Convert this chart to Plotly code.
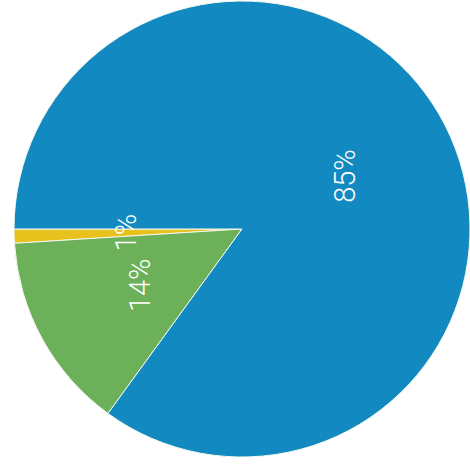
import math
import plotly.graph_objects as go

# Data
labels = ["Yellow", "Green", "Blue"]
values = [1, 14, 85]
colors = ["#e8c21c", "#6cb05a", "#128ac1"]
text_labels = ["1%", "14%", "85%"]

W, H = 470, 465
dom_x = [14 / W, 1.0]
dom_y = [8 / H, 464 / H]

total = sum(values)
# counterclockwise pies in plotly place the first slice's far edge at `rotation`;
# shift so that the first slice begins exactly at 9 o'clock
start_rot = -90 - values[0] / total * 360

fig = go.Figure(go.Pie(
    labels=labels,
    values=values,
    marker=dict(colors=colors, line=dict(color="#f4f8f0", width=1)),
    sort=False,
    direction="counterclockwise",
    rotation=start_rot,
    textinfo="none",
    hoverinfo="label+percent",
    showlegend=False,
    domain=dict(x=dom_x, y=dom_y),
))

# Label positions derived from the slice values (mid-angle of each slice, half radius)
wpx = (dom_x[1] - dom_x[0]) * W
hpx = (dom_y[1] - dom_y[0]) * H
r = min(wpx, hpx) / 2
cx = (dom_x[0] + dom_x[1]) / 2 * W
cy = (dom_y[0] + dom_y[1]) / 2 * H  # from bottom
cum = 0
for v, t in zip(values, text_labels):
    mid = (cum + v / 2) / total * 360
    cum += v
    ang = math.radians(180 + mid)  # start at 9 o'clock, counterclockwise
    px = cx + 0.51 * r * math.cos(ang)
    py = cy + 0.51 * r * math.sin(ang)
    fig.add_annotation(
        x=px / W, y=py / H, xref="paper", yref="paper",
        xanchor="center", yanchor="middle",
        text=t, showarrow=False, textangle=-90,
        font=dict(family="Roboto", size=29, color="white", weight=300),
    )

fig.update_layout(
    width=W, height=H,
    margin=dict(l=0, r=0, t=0, b=0),
    paper_bgcolor="white",
    plot_bgcolor="white",
)

fig.write_html(
    "out.html",
    config={"displayModeBar": False},
    post_script="document.body.style.margin='0px';document.body.style.overflow='hidden';",
)
